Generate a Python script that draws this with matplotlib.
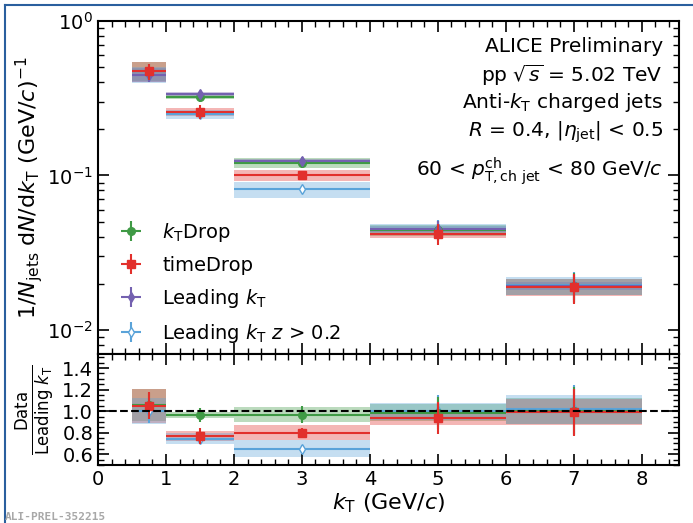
import numpy as np
import matplotlib.pyplot as plt
from matplotlib.lines import Line2D
from matplotlib.ticker import MultipleLocator, LogLocator, NullFormatter

plt.rcParams['mathtext.fontset'] = 'dejavusans'

# kT bins (GeV/c)
bin_lo = np.array([0.5, 1.0, 2.0, 4.0, 6.0])
bin_hi = np.array([1.0, 2.0, 4.0, 6.0, 8.0])

# 1/Njets dN/dkT for each grooming method
ktdrop = np.array([0.477, 0.323, 0.121, 0.0443, 0.0192])
timedrop = np.array([0.4725, 0.258, 0.100, 0.0421, 0.0190])
leading = np.array([0.45, 0.335, 0.125, 0.045, 0.0192])
leading_z = np.array([0.45, 0.2496, 0.0813, 0.045, 0.0195])

# relative statistical and systematic uncertainties
ktdrop_stat = np.array([0.10, 0.07, 0.08, 0.15, 0.22])
timedrop_stat = np.array([0.12, 0.10, 0.05, 0.16, 0.22])
leading_stat = np.array([0.10, 0.05, 0.05, 0.12, 0.18])
leading_z_stat = np.array([0.11, 0.05, 0.05, 0.15, 0.22])

ktdrop_sys = np.array([0.14, 0.03, 0.075, 0.08, 0.12])
timedrop_sys = np.array([0.15, 0.06, 0.085, 0.07, 0.12])
leading_sys = np.array([0.10, 0.03, 0.03, 0.04, 0.06])
leading_z_sys = np.array([0.12, 0.07, 0.12, 0.08, 0.13])

c_green = '#3f9a45'
c_red = '#e2302c'
c_purple = '#7461b0'
c_blue = '#5aa3d9'

series = [
    (r'$k_\mathrm{T}$Drop', ktdrop, ktdrop_stat, ktdrop_sys, c_green, 'o', c_green),
    ('timeDrop', timedrop, timedrop_stat, timedrop_sys, c_red, 's', c_red),
    (r'Leading $k_\mathrm{T}$', leading, leading_stat, leading_sys, c_purple, 'd', c_purple),
    (r'Leading $k_\mathrm{T}$ $z$ > 0.2', leading_z, leading_z_stat, leading_z_sys, c_blue, 'd', 'white'),
]
# drawing order so the red squares end up on top
zorders = [3.2, 3.6, 3.3, 3.1]

centers = 0.5*(bin_lo + bin_hi)
half_w = 0.5*(bin_hi - bin_lo)


def draw_band(ax, y, rel_sys, color):
    for lo, hi, v, s in zip(bin_lo, bin_hi, y, rel_sys):
        ax.fill_between([lo, hi], v*(1 - s), v*(1 + s), color=color,
                        alpha=0.35, lw=0)


fig = plt.figure(figsize=(6.93, 5.23), dpi=100, facecolor='white')
ax = fig.add_axes([0.1414, 0.3231, 0.8386, 0.6369])
ax1 = fig.add_axes([0.1414, 0.1109, 0.8386, 0.2122])

handles = []
for (label, y, stat, sys, color, mk, mfc), zo in zip(series, zorders):
    draw_band(ax, y, sys, color)
    h = ax.errorbar(centers, y, xerr=half_w, yerr=y*stat, fmt=mk, color=color,
                    mfc=mfc, mec=color, ms=5.5, lw=1.5, elinewidth=1.5,
                    label=label, zorder=zo)
    handles.append(h)

ax.set_yscale('log')
ax.set_ylim(0.007, 1.0)
ax.set_xlim(0, 8.55)
ax.xaxis.set_minor_locator(MultipleLocator(0.2))
ax.xaxis.set_major_locator(MultipleLocator(1))
ax.set_xticklabels([])
ax.yaxis.set_major_locator(LogLocator(base=10))
ax.yaxis.set_minor_locator(LogLocator(base=10, subs=np.arange(2, 10)))
ax.yaxis.set_minor_formatter(NullFormatter())
ax.tick_params(direction='in', which='both', top=True, right=True, labelsize=14)
ax.tick_params(which='major', length=8, width=1.2)
ax.tick_params(which='minor', length=4, width=1.0)
ax.set_ylabel(r'$1/N_\mathrm{jets}\;\mathrm{d}N/\mathrm{d}k_\mathrm{T}\ (\mathrm{GeV}/c)^{-1}$',
              fontsize=16, labelpad=2)

ax.legend(handles=handles, loc='lower left', frameon=False, fontsize=14,
          handlelength=1.6, labelspacing=0.62, bbox_to_anchor=(0.0, -0.025))

info = [
    'ALICE Preliminary',
    r'pp $\sqrt{s}$ = 5.02 TeV',
    r'Anti-$k_\mathrm{T}$ charged jets',
    r'$R$ = 0.4, $|\eta_\mathrm{jet}|$ < 0.5',
    r'60 < $p_\mathrm{T,ch\ jet}^\mathrm{ch}$ < 80 GeV/$c$',
]
info_y = [0.924, 0.836, 0.755, 0.667, 0.55]
for txt, ty in zip(info, info_y):
    ax.text(0.972, ty, txt, transform=ax.transAxes, ha='right', va='center',
            fontsize=14.5)

# ratios to Leading kT
for (label, y, stat, sys, color, mk, mfc), zo in zip(series, zorders):
    if y is leading:
        continue
    r = y/leading
    draw_band(ax1, r, sys, color)
    ax1.errorbar(centers, r, xerr=half_w, yerr=r*stat, fmt=mk, color=color,
                 mfc=mfc, mec=color, ms=5.5, lw=1.5, elinewidth=1.5, zorder=zo)

ax1.axhline(1.0, color='black', ls='--', lw=1.5, zorder=5)
ax1.set_xlim(0, 8.55)
ax1.set_ylim(0.5, 1.53)
ax1.xaxis.set_major_locator(MultipleLocator(1))
ax1.xaxis.set_minor_locator(MultipleLocator(0.2))
ax1.yaxis.set_major_locator(MultipleLocator(0.2))
ax1.yaxis.set_minor_locator(MultipleLocator(0.05))
ax1.tick_params(direction='in', which='both', top=True, right=True, labelsize=14)
ax1.tick_params(which='major', length=8, width=1.2)
ax1.tick_params(which='minor', length=4, width=1.0)
ax1.set_yticks([0.6, 0.8, 1.0, 1.2, 1.4])
ax1.set_yticklabels(['0.6', '0.8', '1.0', '1.2', '1.4'])
ax1.set_xlabel(r'$k_\mathrm{T}$ (GeV/$c$)', fontsize=16, labelpad=2)
ax1.set_ylabel(r'$\frac{\mathrm{Data}}{\mathrm{Leading}\ k_\mathrm{T}}$', fontsize=17,
               labelpad=4)

for a in (ax, ax1):
    for sp in a.spines.values():
        sp.set_linewidth(1.5)

fig.text(0.007, 0.006, 'ALI-PREL-352215', fontsize=8, color='#a8a8a8',
         family='DejaVu Sans Mono', fontweight='bold')

# frame lines along top and left edge
fig.add_artist(Line2D([0.007, 1.0], [0.99, 0.99], color='#2a5f9e', lw=1.5,
                      transform=fig.transFigure))
fig.add_artist(Line2D([0.007, 0.007], [0.0, 0.99], color='#2a5f9e', lw=1.5,
                      transform=fig.transFigure))

fig.savefig('out.png', dpi=100, facecolor='white')
